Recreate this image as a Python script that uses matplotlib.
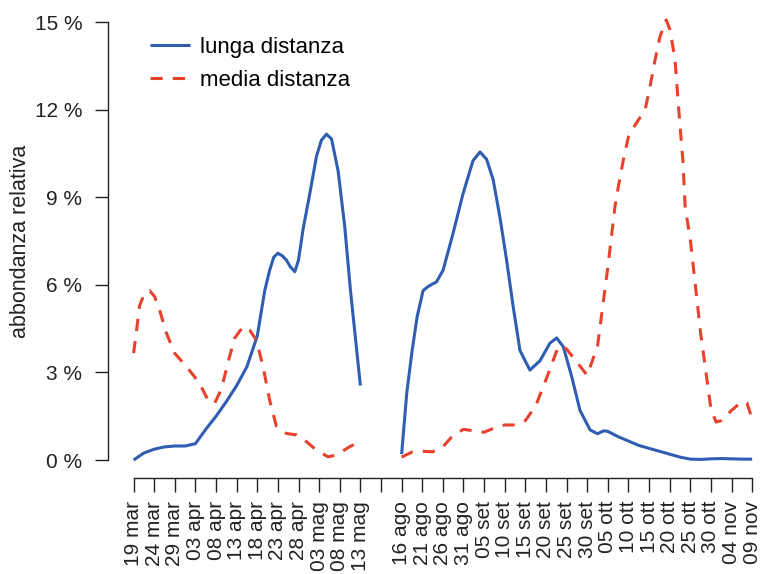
"""Relative abundance of long- and medium-distance migrants, spring and autumn."""
import matplotlib
matplotlib.use('Agg')
import matplotlib.pyplot as plt
import numpy as np

plt.rcParams['font.family'] = ['Liberation Sans', 'DejaVu Sans']

# Tick labels: spring pentads, one empty slot, autumn pentads
DATES = ['19 mar', '24 mar', '29 mar', '03 apr', '08 apr', '13 apr',
         '18 apr', '23 apr', '28 apr', '03 mag', '08 mag', '13 mag', '',
         '16 ago', '21 ago', '26 ago', '31 ago', '05 set', '10 set',
         '15 set', '20 set', '25 set', '30 set', '05 ott', '10 ott',
         '15 ott', '20 ott', '25 ott', '30 ott', '04 nov', '09 nov']

# Curves: time in pentad steps, value in %
LUNGA_T = [0, 0.5, 1, 1.5, 2, 2.5, 3, 3.5, 4, 4.5, 5, 5.5, 6, 6.36, 6.6,
           6.8, 7, 7.2, 7.41, 7.6, 7.82, 8, 8.22, 8.54, 8.87, 9.11, 9.35,
           9.6, 9.92, 10.24, 10.52, 11, 12,
           13, 13.25, 13.5, 13.75, 14.04, 14.3, 14.69, 15.01, 15.49, 15.97,
           16.46, 16.8, 17.12, 17.44, 17.77, 18.09, 18.41, 18.74, 19.22,
           19.71, 20.19, 20.52, 20.84, 21.25, 21.65, 22.14, 22.5, 22.8, 23,
           23.5, 24, 24.5, 25, 25.5, 26, 26.5, 27, 27.5, 28, 28.5, 29, 29.5,
           30]
LUNGA_V = [0.0, 0.24, 0.37, 0.45, 0.48, 0.48, 0.56, 1.05, 1.5, 2.0, 2.55,
           3.2, 4.25, 5.8, 6.5, 6.95, 7.08, 7.0, 6.85, 6.62, 6.45, 6.85, 7.9,
           9.1, 10.4, 10.95, 11.16, 11.0, 9.9, 8.0, 5.8, 2.55, np.nan,
           0.2, 2.3, 3.7, 4.9, 5.8, 5.95, 6.1, 6.5, 7.75, 9.1,
           10.25, 10.55, 10.3, 9.6, 8.3, 6.85, 5.25, 3.75, 3.08,
           3.4, 4.0, 4.18, 3.88, 2.85, 1.7, 1.03, 0.9, 1.0, 0.98,
           0.8, 0.65, 0.5, 0.4, 0.3, 0.2, 0.1, 0.03, 0.02, 0.04, 0.05, 0.04,
           0.03, 0.03]

MEDIA_T = [0, 0.13, 0.29, 0.53, 0.78, 1.02, 1.26, 1.59, 1.99, 2.56, 2.96,
           3.29, 3.61, 3.93, 4.26, 4.58, 4.9, 5.31, 5.63, 5.96, 6.28, 6.6,
           6.93, 7.41, 7.9, 8.38, 8.87, 9.43, 9.84, 10.49, 11, 12,
           13, 13.5, 14, 14.5, 15, 15.5, 16, 16.5, 17, 17.5, 18, 18.5, 19,
           19.5, 20, 20.5, 20.68, 21, 21.5, 22, 22.5, 23, 23.35, 23.51,
           23.75, 24, 24.32, 24.81, 25.05, 25.29, 25.53, 25.83, 26.02, 26.26,
           26.38, 26.5, 26.64, 26.75, 27, 27.5, 28, 28.25, 28.5, 29, 29.5,
           29.75, 30]
MEDIA_V = [3.66, 4.35, 5.28, 5.71, 5.8, 5.6, 5.14, 4.35, 3.66, 3.2, 2.85,
           2.5, 2.05, 1.94, 2.43, 3.34, 4.17, 4.57, 4.45, 4.1, 3.2, 2.05,
           1.15, 0.91, 0.86, 0.63, 0.34, 0.11, 0.17, 0.46, 0.63, np.nan,
           0.1, 0.27, 0.3, 0.28, 0.45, 0.85, 1.05, 1.0, 0.95, 1.1, 1.2, 1.2,
           1.35, 1.85, 2.75, 3.7, 3.92, 3.8, 3.35, 2.9, 3.9, 6.6, 8.7, 9.36,
           10.27, 11.07, 11.47, 12.0, 12.8, 13.7, 14.5, 15.07, 14.73, 13.7,
           12.56, 11.45, 10.27, 8.67, 7.55, 4.35, 1.75, 1.3, 1.35, 1.7, 2.0,
           1.95, 1.4]

BLUE = '#2f5db1'
RED = '#e8412c'
INK = '#222222'


def main():
    fig = plt.figure(figsize=(7.66, 5.74), dpi=100)
    ax = fig.add_axes([108 / 766, 96 / 574, 658 / 766, 473.5 / 574])

    ax.plot(LUNGA_T, LUNGA_V, color=BLUE, lw=2.2, label='lunga distanza',
            solid_capstyle='butt', solid_joinstyle='round')
    ax.plot(MEDIA_T, MEDIA_V, color=RED, lw=2.2, ls=(0, (4, 3.3)),
            label='media distanza', dash_capstyle='butt',
            dash_joinstyle='round')

    ax.set_xlim(-1.24, -1.24 + 658 / 20.62)
    ax.set_ylim(-0.616, 15.6)

    ax.set_xticks(range(len(DATES)))
    ax.set_xticklabels(DATES, rotation=90, fontsize=15, color=INK)
    yt = [0, 3, 6, 9, 12, 15]
    ax.set_yticks(yt)
    ax.set_yticklabels([f'{v} %' for v in yt], fontsize=15, color=INK)
    ax.tick_params(axis='x', length=10, width=1, pad=6.5, colors=INK,
                   labelcolor=INK)
    ax.tick_params(axis='y', length=9.5, width=1, pad=9, colors=INK,
                   labelcolor=INK)

    for side in ('top', 'right'):
        ax.spines[side].set_visible(False)
    ax.spines['left'].set_bounds(0, 15)
    ax.spines['bottom'].set_bounds(0, len(DATES) - 1)
    for side in ('left', 'bottom'):
        ax.spines[side].set_color(INK)
        ax.spines[side].set_linewidth(1)

    ax.set_ylabel('abbondanza relativa', fontsize=15.5, color=INK,
                  labelpad=3)

    ax.legend(loc='upper left', bbox_to_anchor=(150 / 766, 1 - 37 / 574),
              bbox_transform=fig.transFigure, frameon=False, fontsize=16,
              handlelength=1.8, handletextpad=0.45, labelspacing=0.55,
              borderpad=0, borderaxespad=0)

    fig.savefig('out.png', dpi=100)


if __name__ == '__main__':
    main()
